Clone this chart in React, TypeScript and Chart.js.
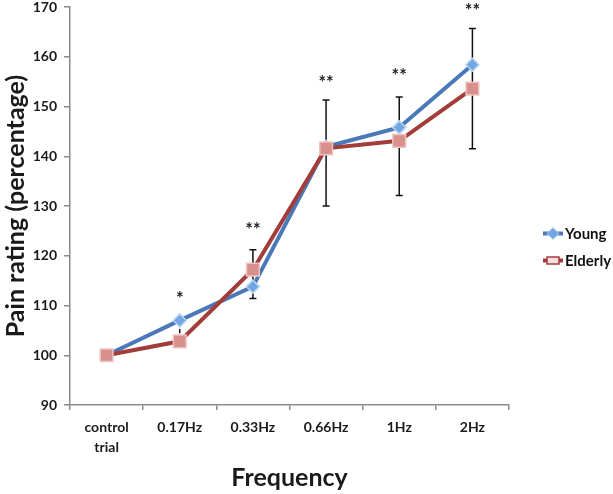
import React, { useEffect, useRef } from "react";
import { Chart, registerables } from "chart.js";

Chart.register(...registerables);

const categories: (string | string[])[] = [["control", "trial"], "0.17Hz", "0.33Hz", "0.66Hz", "1Hz", "2Hz"];
const youngValues = [100, 107.0, 113.8, 141.9, 145.8, 158.4];
const elderlyValues = [100, 102.8, 117.2, 141.6, 143.1, 153.6];
const errorHigh: (number | null)[] = [null, 105.3, 121.2, 151.3, 151.9, 165.7];
const errorLow: (number | null)[] = [null, 104.4, 111.4, 130.0, 132.1, 141.5];
const sigLabels = ["", "*", "**", "**", "**", "**"];
const sigValues: (number | null)[] = [null, 112.0, 126.0, 155.5, 156.8, 170.0];
const seriesNames = ["Young", "Elderly"];
const yMin = 90;
const yMax = 170;
const yStep = 10;

const FONT = "Lato, 'Open Sans', 'DejaVu Sans', sans-serif";
const YOUNG_LINE = "#4a78b8";
const YOUNG_FILL = "#72a6e2";
const YOUNG_BORDER = "#b7d2f2";
const ELDER_LINE = "#a33d3a";
const ELDER_FILL = "#d8908d";
const ELDER_BORDER = "#f0c3c1";

const overlayPlugin = {
  id: "overlay",
  beforeDatasetsDraw(chart: any) {
    const ctx = chart.ctx;
    const x = chart.scales.x;
    const y = chart.scales.y;
    ctx.save();
    ctx.strokeStyle = "#111";
    ctx.lineWidth = 1.5;
    errorHigh.forEach((hi, i) => {
      const lo = errorLow[i];
      if (hi == null || lo == null) return;
      const px = x.getPixelForValue(i);
      const yh = y.getPixelForValue(hi);
      const yl = y.getPixelForValue(lo);
      ctx.beginPath();
      ctx.moveTo(px, yh);
      ctx.lineTo(px, yl);
      if (yl - yh > 8) {
        ctx.moveTo(px - 3.5, yh);
        ctx.lineTo(px + 3.5, yh);
        ctx.moveTo(px - 3.5, yl);
        ctx.lineTo(px + 3.5, yl);
      }
      ctx.stroke();
    });
    ctx.restore();
  },
  afterDraw(chart: any) {
    const ctx = chart.ctx;
    const x = chart.scales.x;
    const y = chart.scales.y;
    ctx.save();
    ctx.fillStyle = "#222";
    ctx.font = `bold 18px ${FONT}`;
    ctx.textAlign = "center";
    ctx.textBaseline = "middle";
    sigLabels.forEach((lab, i) => {
      const v = sigValues[i];
      if (!lab || v == null) return;
      const px = x.getPixelForValue(i);
      ctx.fillText(lab, px, y.getPixelForValue(v) + 4);
    });
    // legend
    const lx = chart.chartArea.right + 34;
    const midY = chart.height / 2;
    const rows = [
      { name: seriesNames[0], line: YOUNG_LINE, fill: YOUNG_FILL, border: YOUNG_BORDER, style: "rectRot", r: 6 },
      { name: seriesNames[1], line: ELDER_LINE, fill: ELDER_FILL, border: ELDER_BORDER, style: "rect", r: 7 },
    ];
    rows.forEach((row, k) => {
      const ly = midY - 13.5 + k * 27;
      ctx.strokeStyle = row.line;
      ctx.lineWidth = 4;
      ctx.beginPath();
      ctx.moveTo(lx, ly);
      ctx.lineTo(lx + 20, ly);
      ctx.stroke();
      ctx.fillStyle = row.fill;
      ctx.strokeStyle = row.border;
      ctx.lineWidth = 1;
      if (row.style === "rect") {
        ctx.strokeStyle = row.line;
        ctx.lineWidth = 1.5;
        ctx.fillStyle = "#f4dede";
        ctx.beginPath();
        ctx.rect(lx + 10 - 6, ly - 3.5, 12, 7);
        ctx.fill();
        ctx.stroke();
      } else {
        ctx.beginPath();
        ctx.moveTo(lx + 10, ly - row.r);
        ctx.lineTo(lx + 10 + row.r, ly);
        ctx.lineTo(lx + 10, ly + row.r);
        ctx.lineTo(lx + 10 - row.r, ly);
        ctx.closePath();
        ctx.fill();
        ctx.stroke();
      }
      ctx.fillStyle = "#111";
      ctx.font = `bold 15px ${FONT}`;
      ctx.textAlign = "left";
      ctx.textBaseline = "middle";
      ctx.fillText(row.name, lx + 22, ly + 1);
    });
    ctx.restore();
  },
};

export default function App() {
  const ref = useRef<HTMLCanvasElement | null>(null);
  useEffect(() => {
    if (!ref.current) return;
    const chart = new Chart(ref.current, {
      type: "line",
      data: {
        labels: categories,
        datasets: [
          {
            label: seriesNames[0],
            data: youngValues,
            borderColor: YOUNG_LINE,
            backgroundColor: YOUNG_FILL,
            pointBackgroundColor: YOUNG_FILL,
            pointBorderColor: YOUNG_BORDER,
            pointBorderWidth: 1.5,
            pointStyle: "rectRot",
            pointRadius: 6.5,
            borderWidth: 4,
            tension: 0,
            order: 1,
          },
          {
            label: seriesNames[1],
            data: elderlyValues,
            borderColor: ELDER_LINE,
            backgroundColor: ELDER_FILL,
            pointBackgroundColor: ELDER_FILL,
            pointBorderColor: ELDER_BORDER,
            pointBorderWidth: 1.5,
            pointStyle: "rect",
            pointRadius: 9,
            borderWidth: 4,
            tension: 0,
            order: 0,
          },
        ],
      },
      options: {
        responsive: false,
        animation: false,
        layout: { autoPadding: false, padding: { left: 0, right: 104, top: 0, bottom: 0 } },
        plugins: { legend: { display: false }, tooltip: { enabled: false } },
        scales: {
          x: {
            type: "category",
            offset: true,
            grid: { offset: true, drawOnChartArea: false, drawTicks: true, tickLength: 5, color: "#8a8a8a", lineWidth: 1.5 },
            border: { color: "#8a8a8a", width: 1.5 },
            ticks: { color: "#1a1a1a", font: { family: FONT, size: 14, weight: "bold", lineHeight: 1.4 }, padding: 8, maxRotation: 0, autoSkip: false },
            title: { display: true, text: "Frequency", color: "#1a1a1a", font: { family: FONT, size: 25, weight: "bold" }, padding: { top: 4, bottom: 1 } },
            afterFit: (scale: any) => { scale.height = 89; },
          },
          y: {
            min: yMin,
            max: yMax,
            grid: { drawOnChartArea: false, drawTicks: true, tickLength: 6, color: "#8a8a8a", lineWidth: 1.5 },
            border: { color: "#8a8a8a", width: 1.5 },
            ticks: { stepSize: yStep, color: "#1a1a1a", font: { family: FONT, size: 14, weight: "bold" }, padding: 7 },
            title: { display: true, text: "Pain rating (percentage)", color: "#1a1a1a", font: { family: FONT, size: 25, weight: "bold" }, padding: { top: 1, bottom: 4 } },
            afterFit: (scale: any) => {
              scale.width = 70;
              scale.paddingTop = 7;
              scale.paddingBottom = 0;
            },
          },
        },
      },
      plugins: [overlayPlugin],
    });
    return () => chart.destroy();
  }, []);
  return (
    <div style={{ position: "fixed", left: 0, top: 0, width: 613, height: 494, background: "#fff" }}>
      <canvas ref={ref} width={613} height={494} style={{ display: "block" }} />
    </div>
  );
}
